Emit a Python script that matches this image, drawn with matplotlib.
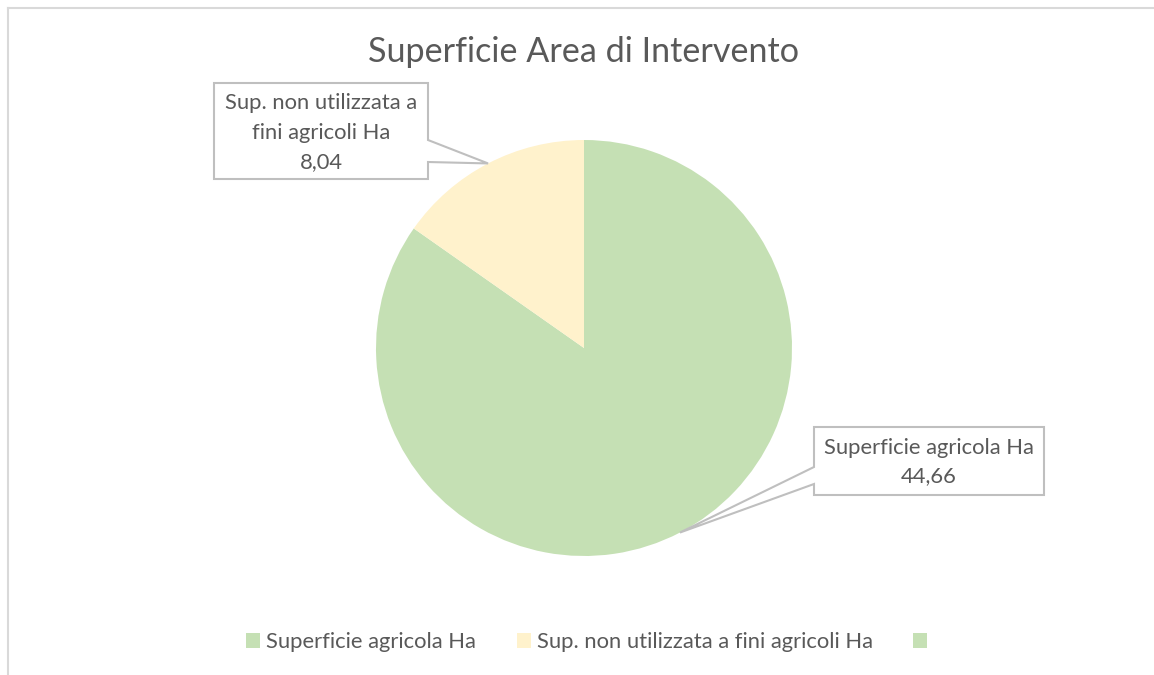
import matplotlib.pyplot as plt
from matplotlib.patches import Patch, Polygon
from matplotlib.lines import Line2D
import numpy as np

plt.rcParams['font.family'] = ['Lato', 'DejaVu Sans']

categorie = ['Superficie agricola Ha', 'Sup. non utilizzata a fini agricoli Ha']
valori = [44.66, 8.04]
colori = ['#C5E0B4', '#FFF2CC']
voci_legenda = ['Superficie agricola Ha', 'Sup. non utilizzata a fini agricoli Ha', '']
colori_legenda = ['#C5E0B4', '#FFF2CC', '#C5E0B4']

W, H = 1154, 675
TESTO = '#595959'
BORDO = '#BFBFBF'
FS = 15.8

fig = plt.figure(figsize=(W / 100, H / 100), dpi=100)

# pie area: centre and radius in pixels
cx, cy, R = 584, 348, 208
ax = fig.add_axes([(cx - R) / W, (H - cy - R) / H, 2 * R / W, 2 * R / H])
wedges, _ = ax.pie(valori, colors=colori, startangle=90, counterclock=False,
                   radius=1, wedgeprops=dict(linewidth=0))
ax.set_xlim(-1, 1)
ax.set_ylim(-1, 1)
ax.set_aspect('equal')
ax.axis('off')


def to_data(px, py):
    return (px - cx) / R, (cy - py) / R


def fmt(v):
    return f'{v:.2f}'.replace('.', ',')


# callout boxes (pixel rectangles) and the side where the pointer leaves
callout = [
    dict(box=(214, 83, 428, 179), side='right', base=(140, 162),
         text=['Sup. non utilizzata a', 'fini agricoli Ha'], line_y=[103, 133, 162]),
    dict(box=(814, 427, 1044, 495), side='left', base=(467, 484),
         text=['Superficie agricola Ha'], line_y=[448, 476]),
]
order = [1, 0]  # yellow slice label first, then green

for k, idx in enumerate(order):
    c = callout[k]
    w = wedges[idx]
    mid = np.deg2rad((w.theta1 + w.theta2) / 2)
    tip = (np.cos(mid), np.sin(mid))
    x0, y0, x1, y1 = c['box']
    b0, b1 = c['base']
    if c['side'] == 'right':
        pts = [(x0, y0), (x1, y0), (x1, b0), None, (x1, b1), (x1, y1), (x0, y1)]
    else:
        pts = [(x0, y0), (x1, y0), (x1, y1), (x0, y1), (x0, b1), None, (x0, b0)]
    verts = [tip if p is None else to_data(*p) for p in pts]
    ax.add_patch(Polygon(verts, closed=True, facecolor='white', edgecolor=BORDO,
                         linewidth=1.5, clip_on=False, zorder=5))
    righe = c['text'] + [fmt(valori[idx])]
    xm = (x0 + x1) / 2
    for riga, ly in zip(righe, c['line_y']):
        tx, ty = to_data(xm, ly)
        ax.text(tx, ty, riga, ha='center', va='center', fontsize=FS,
                color=TESTO, zorder=6, clip_on=False)

fig.text(583 / W, 1 - 52 / H, 'Superficie Area di Intervento', ha='center',
         va='center', fontsize=24.6, color=TESTO)

handles = [Patch(facecolor=c, edgecolor='none') for c in colori_legenda]
fig.legend(handles, voci_legenda, loc='center left',
           bbox_to_anchor=(246 / W, 1 - 642 / H), ncol=3, frameon=False,
           fontsize=FS, labelcolor=TESTO, handlelength=0.64, handleheight=0.64,
           handletextpad=0.28, columnspacing=1.85, borderpad=0, borderaxespad=0)

# chart area border (top and left edges visible)
fig.add_artist(Line2D([8 / W, 1], [1 - 8 / H, 1 - 8 / H], color='#D9D9D9', lw=1.5))
fig.add_artist(Line2D([8 / W, 8 / W], [0, 1 - 8 / H], color='#D9D9D9', lw=1.5))

fig.savefig('out.png', dpi=100, facecolor='white')
